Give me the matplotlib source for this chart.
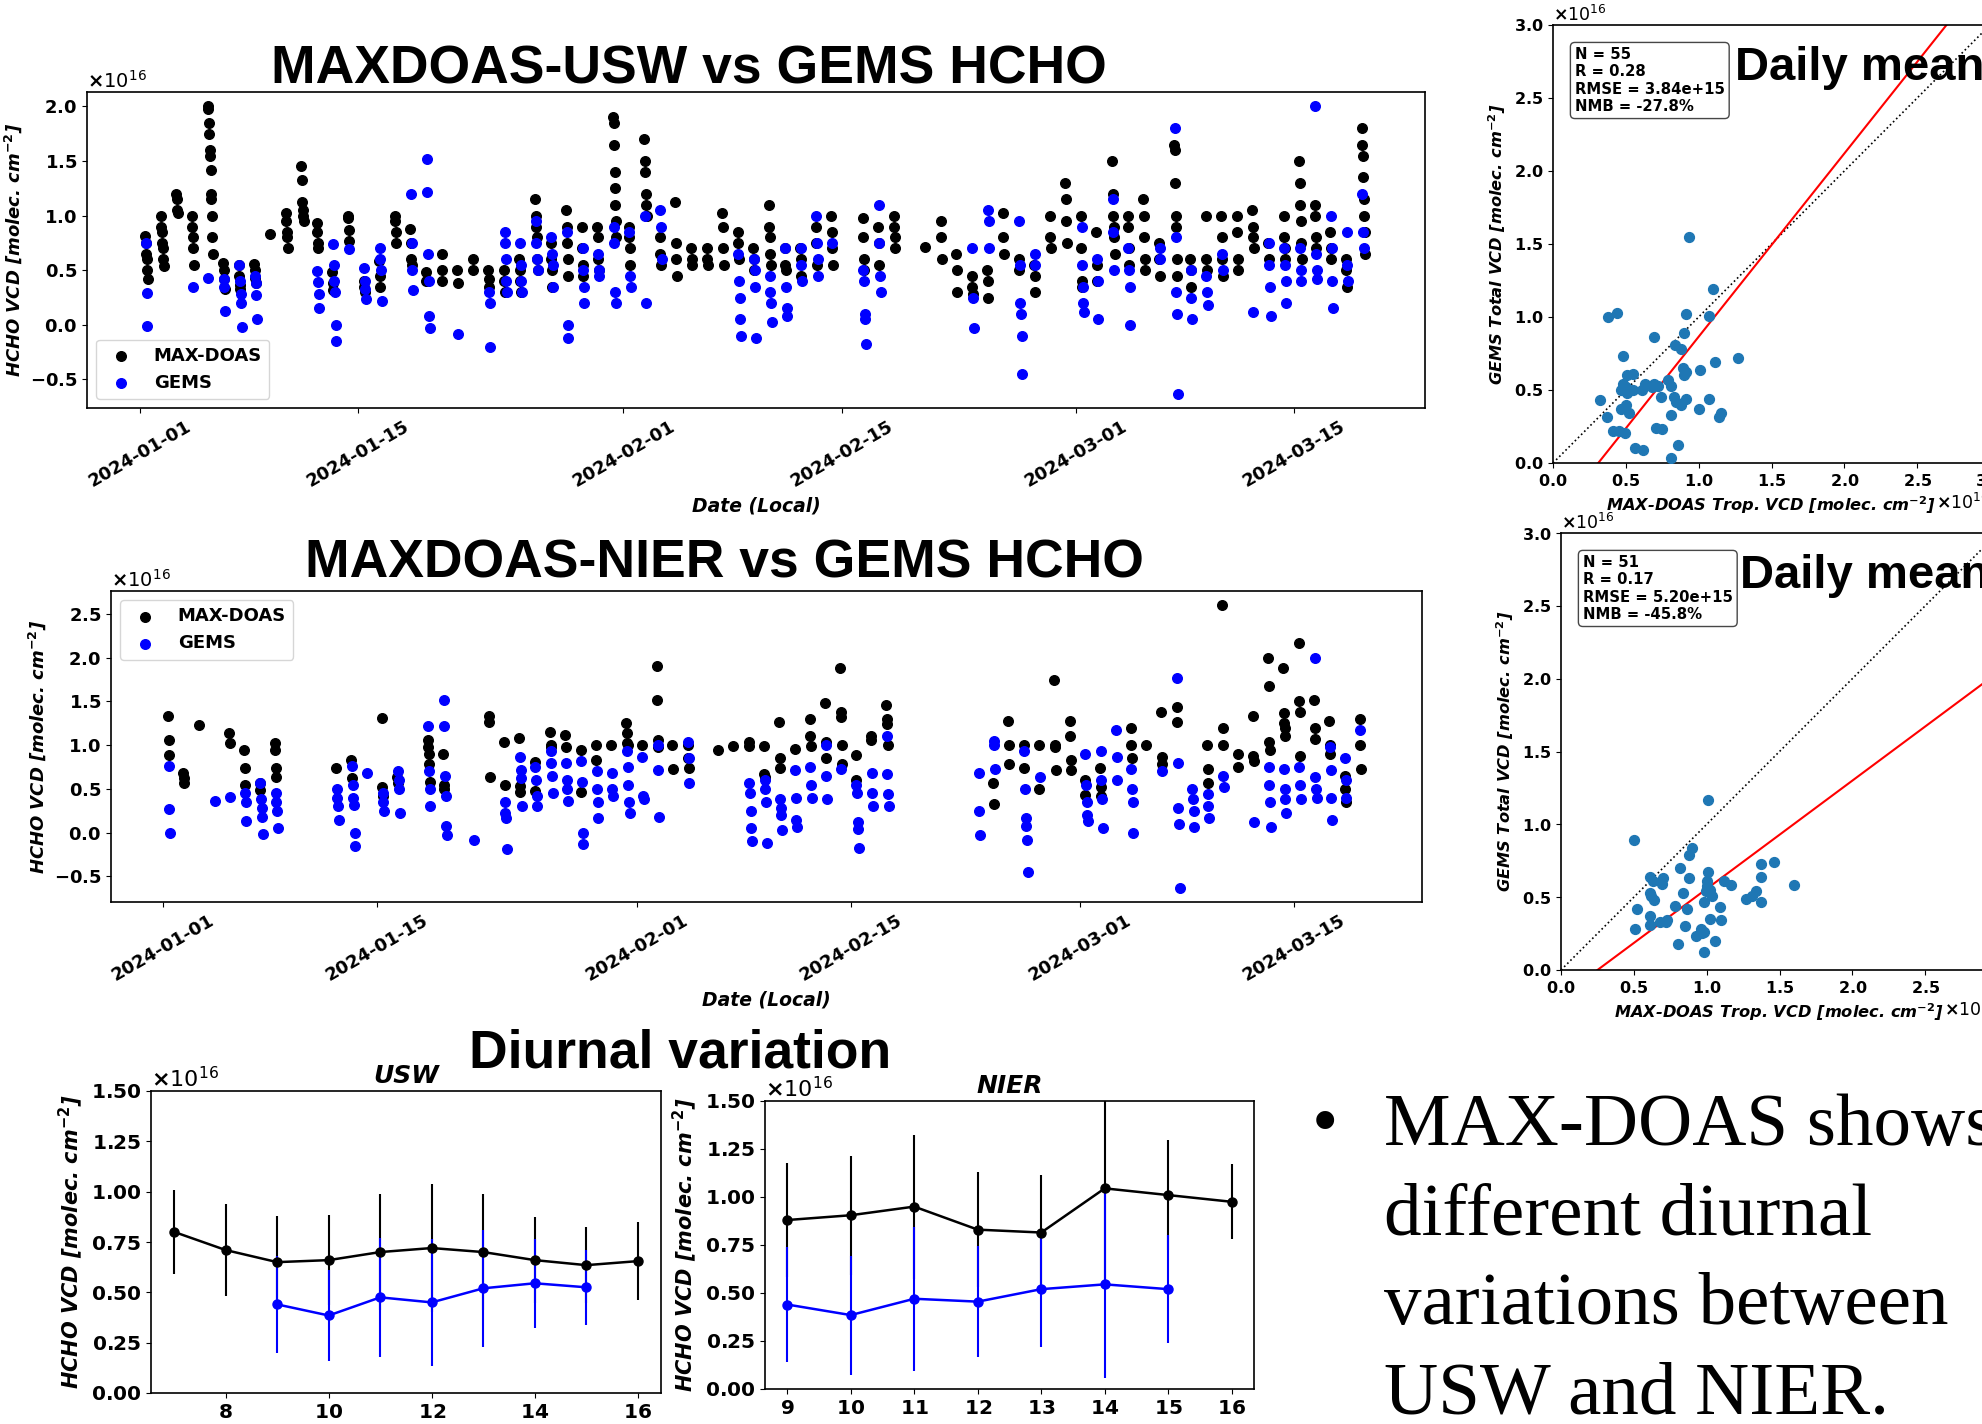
import matplotlib
matplotlib.use('Agg')
import matplotlib.pyplot as plt
import matplotlib.dates as mdates
import numpy as np
from datetime import datetime, timedelta

plt.rcParams['font.family'] = ['DejaVu Sans']
plt.rcParams['font.weight'] = 'bold'
plt.rcParams['axes.labelweight'] = 'bold'
plt.rcParams['axes.titleweight'] = 'bold'
plt.rcParams['axes.formatter.use_mathtext'] = True
plt.rcParams['axes.linewidth'] = 1.2

W, H = 1982, 1424
SCALE = 1e16
BASE = datetime(2024, 1, 1)

# ---------------- USW time series (values in 1e16 molec/cm2) ----------------
usw_days = [0, 1, 2, 3, 4, 5, 6, 7, 8, 9, 10, 11, 12, 13, 14, 15, 16, 17, 18, 19,
            20, 21, 22, 23, 24, 25, 26, 27, 28, 29, 30, 31, 32, 33, 34, 35, 36, 37, 38, 39,
            40, 41, 42, 43, 44, 46, 47, 48, 50, 51, 52, 53, 54, 55, 56, 57, 58, 59, 60,
            61, 62, 63, 64, 65, 66, 67, 68, 69, 70, 71, 72, 73, 74, 75, 76, 77, 78]
usw_maxdoas = [
    [0.81, 0.75, 0.65, 0.6, 0.5, 0.42], [1.0, 0.9, 0.85, 0.75, 0.7, 0.6, 0.54],
    [1.2, 1.15, 1.05, 1.02], [1.0, 0.9, 0.8, 0.7, 0.55],
    [2.0, 1.98, 1.85, 1.75, 1.6, 1.55, 1.42, 1.2, 1.15, 1.0, 0.8, 0.65],
    [0.57, 0.5, 0.42, 0.33], [0.55, 0.45, 0.36, 0.33], [0.56, 0.5, 0.43, 0.38], [0.83],
    [1.02, 0.95, 0.85, 0.8, 0.7], [1.45, 1.33, 1.12, 1.05, 1.0, 0.95], [0.93, 0.85, 0.75, 0.7],
    [0.48, 0.38, 0.32], [1.0, 0.98, 0.87, 0.77], [0.4, 0.35, 0.3], [0.58, 0.45, 0.35],
    [1.0, 0.95, 0.85, 0.75], [0.88, 0.75, 0.6, 0.55], [0.48, 0.4], [0.65, 0.5, 0.4],
    [0.5, 0.38], [0.6, 0.5], [0.5, 0.42, 0.35], [0.5, 0.4, 0.3], [0.6, 0.5, 0.4, 0.3],
    [1.15, 1.0, 0.9, 0.8, 0.6, 0.5], [0.75, 0.6, 0.5, 0.35], [1.05, 0.9, 0.75, 0.6, 0.45],
    [0.9, 0.7, 0.55, 0.45], [0.9, 0.8, 0.6, 0.5], [1.9, 1.85, 1.65, 1.4, 1.25, 1.1, 0.95, 0.8],
    [0.9, 0.8, 0.7, 0.55], [1.7, 1.5, 1.4, 1.2, 1.1, 1.0], [0.8, 0.65, 0.55],
    [1.12, 0.75, 0.6, 0.45], [0.7, 0.6, 0.55], [0.7, 0.6, 0.55], [1.02, 0.9, 0.7, 0.55],
    [0.85, 0.75, 0.6], [0.7, 0.6, 0.5], [1.1, 0.9, 0.8, 0.65, 0.55], [0.7, 0.55, 0.5],
    [0.7, 0.6, 0.45], [0.9, 0.75, 0.55], [1.0, 0.85, 0.7, 0.55], [0.98, 0.8, 0.6, 0.5],
    [0.9, 0.75, 0.55], [1.0, 0.9, 0.8, 0.7], [0.71], [0.95, 0.8, 0.6], [0.65, 0.5, 0.3],
    [0.45, 0.35, 0.28], [0.5, 0.4, 0.25], [1.02, 0.8, 0.65], [0.6, 0.5], [0.55, 0.45, 0.3],
    [1.0, 0.8, 0.7], [1.3, 1.15, 0.95, 0.75], [1.0, 0.7, 0.4, 0.35], [0.85, 0.55, 0.4],
    [1.5, 1.2, 1.0, 0.9, 0.8, 0.65], [1.0, 0.9, 0.7, 0.55], [1.15, 1.0, 0.8, 0.6, 0.5],
    [0.75, 0.6, 0.45], [1.65, 1.6, 1.3, 1.0, 0.9, 0.6, 0.45], [0.6, 0.5, 0.35], [1.0, 0.6, 0.5],
    [1.0, 0.8, 0.6, 0.45], [1.0, 0.85, 0.6, 0.5], [1.05, 0.9, 0.8, 0.7], [0.75, 0.6],
    [1.0, 0.8, 0.7, 0.6], [1.5, 1.3, 1.1, 0.95, 0.75, 0.6], [1.1, 1.0, 0.8, 0.7],
    [0.85, 0.7, 0.6], [0.6, 0.5, 0.35], [1.8, 1.65, 1.55, 1.35, 1.15, 1.0, 0.85, 0.65],
]
usw_gems = [
    [0.75, 0.29, -0.01], [], [], [0.35], [0.43], [0.42, 0.35, 0.13], [0.55, 0.4, 0.28, 0.2, -0.02],
    [0.45, 0.38, 0.27, 0.05], [], [], [], [0.49, 0.39, 0.28, 0.15], [0.74, 0.55, 0.4, 0.3, 0.0, -0.15],
    [0.69], [0.52, 0.4, 0.33, 0.24], [0.7, 0.6, 0.5, 0.22], [], [1.2, 0.75, 0.5, 0.32],
    [1.52, 1.22, 0.65, 0.4, 0.08, -0.03], [], [-0.08], [], [0.3, 0.2, -0.2],
    [0.85, 0.75, 0.6, 0.4, 0.3], [0.75, 0.55, 0.4, 0.3], [0.95, 0.75, 0.6, 0.5],
    [0.8, 0.65, 0.55, 0.35], [0.85, 0.0, -0.12], [0.7, 0.5, 0.35, 0.2], [0.65, 0.5, 0.45],
    [0.9, 0.75, 0.3, 0.2], [0.85, 0.45, 0.35], [1.0, 0.2], [1.05, 0.9, 0.6], [], [], [], [],
    [0.65, 0.4, 0.25, 0.05, -0.1], [0.6, 0.5, 0.35, -0.12], [0.45, 0.3, 0.2, 0.03],
    [0.7, 0.35, 0.15, 0.08], [0.7, 0.55, 0.4], [1.0, 0.75, 0.6, 0.45], [0.75],
    [0.5, 0.4, 0.1, 0.05, -0.18], [1.1, 0.75, 0.45, 0.3], [], [], [], [],
    [0.7, 0.25, -0.03], [1.05, 0.95, 0.7], [], [0.95, 0.55, 0.2, 0.1, -0.1, -0.45], [0.65, 0.55],
    [], [], [0.9, 0.55, 0.35, 0.2, 0.12], [0.6, 0.4, 0.05], [1.15, 0.85, 0.5],
    [0.7, 0.5, 0.35, 0.0], [], [0.7, 0.6], [1.8, 0.8, 0.3, 0.1, -0.63], [0.5, 0.25, 0.05],
    [0.45, 0.3, 0.18], [0.65, 0.5], [], [0.12], [0.75, 0.55, 0.35, 0.08], [0.7, 0.55, 0.4, 0.2],
    [0.7, 0.5, 0.4], [2.0, 0.65, 0.5, 0.42], [1.0, 0.7, 0.4, 0.15], [0.85, 0.55, 0.4], [1.2, 0.85, 0.7],
]

# ---------------- NIER time series ----------------
nier_days = [0, 1, 2, 3, 4, 5, 6, 7, 11, 12, 13, 14, 15, 17, 18, 20, 21, 22, 23, 24,
             25, 26, 27, 28, 29, 30, 31, 32, 33, 34, 36, 37, 38, 39, 40, 41, 42, 43, 44, 45,
             46, 47, 53, 54, 55, 56, 57, 58, 59, 60, 61, 62, 63, 64, 65, 66, 67, 68, 69, 70,
             71, 72, 73, 74, 75, 76, 77, 78]
nier_maxdoas = [
    [1.33, 1.06, 0.89], [0.68, 0.63, 0.57], [1.23], [], [1.14, 1.03], [0.95, 0.74, 0.55],
    [0.57, 0.49], [1.02, 0.95, 0.74, 0.64], [0.74], [0.83, 0.63], [], [1.31, 0.52, 0.42],
    [0.64, 0.57], [1.06, 0.98, 0.9, 0.78, 0.58], [0.9, 0.55, 0.5], [], [1.33, 1.27, 0.64],
    [1.04, 0.55], [1.08, 0.53, 0.47], [0.81, 0.48], [1.15, 1.0, 0.98], [1.12, 0.98],
    [0.95, 0.47], [1.0, 0.83], [1.0], [1.25, 1.14, 1.03, 1.0], [1.0], [1.9, 1.52, 1.06, 0.98],
    [1.0, 0.73], [1.0, 0.85, 0.74], [0.94], [0.99], [1.04, 0.99], [0.99, 0.67, 0.64],
    [1.27, 0.85, 0.74], [0.96], [1.3, 1.1, 0.99], [1.48, 1.04, 0.85], [1.88, 1.38, 1.32, 1.0, 0.78],
    [0.89, 0.6], [1.1, 1.06], [1.46, 1.3, 1.24, 1.0], [], [0.57, 0.33], [1.28, 1.0, 0.78],
    [1.0, 0.74], [1.0, 0.5], [1.75, 1.0, 0.98, 0.72], [1.28, 1.1, 0.83, 0.72], [0.6, 0.43],
    [0.74, 0.52, 0.42], [], [1.2, 1.0, 0.85], [1.0], [1.38, 0.87, 0.78], [1.44, 1.27], [],
    [1.0, 0.73, 0.57], [2.6, 1.2, 1.0], [0.9, 0.75], [1.33, 0.88, 0.82], [2.0, 1.68, 1.04, 0.95],
    [1.88, 1.37, 1.25, 1.2, 1.1], [2.17, 1.5, 1.38, 0.88], [1.52, 1.2, 1.07], [1.28, 1.0, 0.9],
    [0.65, 0.5, 0.35], [1.3, 1.0, 0.73],
]
nier_gems = [
    [0.76, 0.27, 0.0], [], [], [0.36], [0.41], [0.45, 0.35, 0.13], [0.57, 0.39, 0.28, 0.18, -0.02],
    [0.45, 0.35, 0.25, 0.05], [0.5, 0.4, 0.3, 0.15], [0.76, 0.55, 0.4, 0.32, 0.0, -0.15], [0.68],
    [0.45, 0.35, 0.25], [0.7, 0.6, 0.5, 0.22], [1.22, 0.7, 0.5, 0.3], [1.52, 1.22, 0.65, 0.42, 0.08, -0.03],
    [-0.08], [], [0.35, 0.23, 0.17, -0.19], [0.86, 0.72, 0.62, 0.3], [0.75, 0.6, 0.42, 0.3],
    [0.93, 0.8, 0.65, 0.45], [0.8, 0.6, 0.5, 0.36], [0.82, 0.58, 0.0, -0.13], [0.7, 0.5, 0.35, 0.17],
    [0.68, 0.5, 0.42], [0.93, 0.75, 0.55, 0.35, 0.23], [0.87, 0.42, 0.38], [1.0, 0.72, 0.18], [],
    [1.04, 0.85, 0.57], [], [], [0.57, 0.45, 0.25, 0.05, -0.1], [0.6, 0.5, 0.35, -0.12],
    [0.38, 0.28, 0.2, 0.03], [0.72, 0.4, 0.15, 0.07], [0.75, 0.55, 0.4], [1.0, 0.65, 0.38], [0.73],
    [0.55, 0.45, 0.12, 0.04, -0.18], [0.68, 0.45, 0.3], [1.1, 0.67, 0.44, 0.3], [0.68, 0.25, -0.03],
    [1.05, 1.0, 0.73], [], [0.93, 0.5, 0.17, 0.08, -0.08, -0.45], [0.64], [], [],
    [0.9, 0.55, 0.35, 0.2, 0.13], [0.93, 0.6, 0.38, 0.05], [1.17, 0.87, 0.6], [0.73, 0.5, 0.35, 0.0],
    [], [0.7], [1.77, 0.8, 0.28, 0.1, -0.63], [0.5, 0.38, 0.25, 0.07], [0.44, 0.3, 0.17], [0.65, 0.52],
    [], [0.12], [0.75, 0.55, 0.35, 0.07], [0.73, 0.5, 0.38, 0.22], [0.75, 0.55, 0.38],
    [2.0, 0.64, 0.5, 0.4], [0.98, 0.72, 0.4, 0.15], [0.85, 0.6, 0.4], [1.17],
]

# ---------------- daily-mean scatter ----------------
usw_sc_x = [0.936, 1.10, 0.38, 0.44, 0.915, 1.07, 0.69, 0.90, 0.84, 0.88, 0.48, 1.27, 1.11, 1.01,
            0.89, 0.91, 0.90, 0.51, 0.55, 0.48, 0.63, 0.69, 0.79, 0.81, 0.47, 0.51, 0.55, 0.61,
            0.68, 0.32, 0.74, 0.83, 0.845, 0.915, 1.07, 0.50, 0.47, 0.88, 1.0, 1.15, 1.14, 0.525,
            0.37, 0.81, 0.41, 0.45, 0.495, 0.71, 0.75, 0.855, 0.56, 0.615, 0.81, 0.50, 0.72]
usw_sc_y = [1.545, 1.19, 1.0, 1.03, 1.02, 1.01, 0.86, 0.89, 0.81, 0.78, 0.73, 0.72, 0.69, 0.64,
            0.65, 0.62, 0.60, 0.60, 0.61, 0.54, 0.54, 0.54, 0.57, 0.53, 0.50, 0.48, 0.50, 0.50,
            0.52, 0.43, 0.45, 0.45, 0.42, 0.44, 0.44, 0.40, 0.37, 0.395, 0.37, 0.345, 0.315, 0.34,
            0.315, 0.33, 0.22, 0.22, 0.205, 0.24, 0.23, 0.125, 0.10, 0.09, 0.035, 0.52, 0.53]
nier_sc_x = [1.01, 0.50, 0.90, 0.88, 0.82, 1.46, 1.37, 1.01, 0.61, 0.63, 0.70, 0.69, 0.88, 1.0,
             1.12, 1.17, 1.37, 1.60, 1.0, 1.02, 0.995, 0.61, 0.84, 0.62, 1.04, 0.64, 1.27, 1.31,
             1.34, 1.37, 0.98, 0.52, 0.785, 0.865, 1.09, 0.61, 0.61, 0.68, 0.73, 1.02, 1.10, 0.51,
             0.85, 0.96, 0.97, 0.93, 0.805, 1.06, 0.985, 0.72, 0.98]
nier_sc_y = [1.17, 0.89, 0.835, 0.79, 0.70, 0.74, 0.73, 0.67, 0.64, 0.61, 0.63, 0.59, 0.63, 0.61,
             0.61, 0.585, 0.64, 0.585, 0.575, 0.55, 0.54, 0.53, 0.53, 0.505, 0.505, 0.48, 0.49, 0.51,
             0.54, 0.47, 0.47, 0.42, 0.44, 0.42, 0.43, 0.37, 0.31, 0.33, 0.34, 0.35, 0.34, 0.28,
             0.305, 0.28, 0.255, 0.235, 0.18, 0.20, 0.125, 0.33, 0.26]
usw_fit = (1.255, -0.39)      # slope, intercept (1e16)
nier_fit = (0.743, -0.186)
usw_stats = 'N = 55\nR = 0.28\nRMSE = 3.84e+15\nNMB = -27.8%'
nier_stats = 'N = 51\nR = 0.17\nRMSE = 5.20e+15\nNMB = -45.8%'

# ---------------- diurnal variation ----------------
usw_hours = [7, 8, 9, 10, 11, 12, 13, 14, 15, 16]
usw_md_mean = [0.80, 0.71, 0.65, 0.66, 0.70, 0.72, 0.70, 0.66, 0.635, 0.655]
usw_md_std = [0.21, 0.23, 0.23, 0.225, 0.29, 0.32, 0.29, 0.215, 0.19, 0.195]
usw_gems_hours = [9, 10, 11, 12, 13, 14, 15]
usw_gems_mean = [0.44, 0.385, 0.475, 0.45, 0.52, 0.545, 0.525]
usw_gems_std = [0.24, 0.225, 0.295, 0.315, 0.29, 0.22, 0.185]

nier_hours = [9, 10, 11, 12, 13, 14, 15, 16]
nier_md_mean = [0.88, 0.905, 0.95, 0.83, 0.815, 1.045, 1.01, 0.975]
nier_md_std = [0.295, 0.31, 0.375, 0.30, 0.30, 0.48, 0.285, 0.195]
nier_gems_hours = [9, 10, 11, 12, 13, 14, 15]
nier_gems_mean = [0.44, 0.385, 0.47, 0.455, 0.52, 0.545, 0.52]
nier_gems_std = [0.30, 0.31, 0.375, 0.29, 0.30, 0.49, 0.28]

tick_dates = [datetime(2024, 1, 1), datetime(2024, 1, 15), datetime(2024, 2, 1),
              datetime(2024, 2, 15), datetime(2024, 3, 1), datetime(2024, 3, 15)]


def px_axes(fig, left, top, right, bottom):
    return fig.add_axes([left / W, 1 - bottom / H, (right - left) / W, (bottom - top) / H])


def flatten(days, values, start_hour, step):
    xs, ys = [], []
    for d, vals in zip(days, values):
        for i, v in enumerate(vals):
            xs.append(BASE + timedelta(days=d, hours=start_hour + step * i))
            ys.append(v * SCALE)
    return xs, ys


def draw_series(ax, days, md, gems, legend_loc):
    mx, my = flatten(days, md, 8, 0.75)
    gx, gy = flatten(days, gems, 9, 1.0)
    ax.scatter(mx, my, s=48, color='black', label='MAX-DOAS')
    ax.scatter(gx, gy, s=48, color='blue', label='GEMS')
    ax.set_xlim(BASE - timedelta(days=3.4), BASE + timedelta(days=82.4))
    ax.set_xticks(tick_dates)
    ax.xaxis.set_major_formatter(mdates.DateFormatter('%Y-%m-%d'))
    ax.tick_params(labelsize=13)
    plt.setp(ax.get_xticklabels(), rotation=30)
    ax.set_xlabel('Date (Local)', fontstyle='italic', fontsize=13.5)
    ax.set_ylabel('HCHO VCD [molec. cm$^{-2}$]', fontstyle='italic', fontsize=13)
    ax.yaxis.get_offset_text().set_fontsize(14)
    ax.yaxis.get_offset_text().set_fontweight('normal')
    ax.legend(loc=legend_loc, fontsize=13)


def draw_scatter(ax, x, y, fit, stats):
    ax.scatter(np.array(x) * SCALE, np.array(y) * SCALE, s=50, color='#1f77b4', zorder=3)
    ax.axline((0, 0), (SCALE, SCALE), color='black', ls=':', lw=1.2)
    ax.axline((0, fit[1] * SCALE), slope=fit[0], color='red', lw=1.5)
    ax.set_xlim(0, 3 * SCALE)
    ax.set_ylim(0, 3 * SCALE)
    ax.set_xticks(np.arange(0, 3.01, 0.5) * SCALE)
    ax.set_yticks(np.arange(0, 3.01, 0.5) * SCALE)
    ax.tick_params(labelsize=11.5)
    ax.set_xlabel('MAX-DOAS Trop. VCD [molec. cm$^{-2}$]', fontstyle='italic', fontsize=11.7)
    ax.set_ylabel('GEMS Total VCD [molec. cm$^{-2}$]', fontstyle='italic', fontsize=11.7)
    for t in (ax.xaxis.get_offset_text(), ax.yaxis.get_offset_text()):
        t.set_fontsize(12.5)
        t.set_fontweight('normal')
    ax.text(0.05, 0.95, stats, transform=ax.transAxes, va='top', ha='left', fontsize=10.7,
            bbox=dict(boxstyle='round', facecolor='white', edgecolor='0.2', alpha=0.9))


def draw_diurnal(ax, title, hours, md_mean, md_std, g_hours, g_mean, g_std):
    ax.errorbar(hours, np.array(md_mean) * SCALE, yerr=np.array(md_std) * SCALE, fmt='-o',
                color='black', markersize=6.5, lw=1.8, elinewidth=1.5)
    ax.errorbar(g_hours, np.array(g_mean) * SCALE, yerr=np.array(g_std) * SCALE, fmt='-o',
                color='blue', markersize=6.5, lw=1.8, elinewidth=1.5)
    ax.set_ylim(0, 1.5 * SCALE)
    ax.set_yticks(np.arange(0, 1.51, 0.25) * SCALE)
    ax.tick_params(labelsize=14.5)
    ax.set_title(title, fontstyle='italic', fontsize=18)
    ax.set_ylabel('HCHO VCD [molec. cm$^{-2}$]', fontstyle='italic', fontsize=15)
    ax.yaxis.get_offset_text().set_fontsize(16)
    ax.yaxis.get_offset_text().set_fontweight('normal')


fig = plt.figure(figsize=(W / 100, H / 100), dpi=100)

ax1 = px_axes(fig, 87, 92, 1425, 408)
draw_series(ax1, usw_days, usw_maxdoas, usw_gems, 'lower left')
ax2 = px_axes(fig, 111, 591, 1422, 902)
draw_series(ax2, nier_days, nier_maxdoas, nier_gems, 'upper left')

ax3 = px_axes(fig, 1553, 25, 1990, 463)
draw_scatter(ax3, usw_sc_x, usw_sc_y, usw_fit, usw_stats)
ax4 = px_axes(fig, 1561, 533, 1998, 970)
draw_scatter(ax4, nier_sc_x, nier_sc_y, nier_fit, nier_stats)

ax5 = px_axes(fig, 151, 1091, 661, 1393)
draw_diurnal(ax5, 'USW', usw_hours, usw_md_mean, usw_md_std,
             usw_gems_hours, usw_gems_mean, usw_gems_std)
ax6 = px_axes(fig, 765, 1101, 1254, 1389)
draw_diurnal(ax6, 'NIER', nier_hours, nier_md_mean, nier_md_std,
             nier_gems_hours, nier_gems_mean, nier_gems_std)
ax6.set_xticks(nier_hours)

# slide headings
head = dict(family='Liberation Sans', weight='bold', va='baseline')
fig.text(689 / W, 1 - 83 / H, 'MAXDOAS-USW vs GEMS HCHO', ha='center', fontsize=38.5, **head)
fig.text(724 / W, 1 - 578 / H, 'MAXDOAS-NIER vs GEMS HCHO', ha='center', fontsize=38.5, **head)
fig.text(680 / W, 1 - 1068 / H, 'Diurnal variation', ha='center', fontsize=38.5, **head)
fig.text(1735 / W, 1 - 80 / H, 'Daily mean', ha='left', fontsize=34, **head)
fig.text(1740 / W, 1 - 588 / H, 'Daily mean', ha='left', fontsize=34, **head)

# bullet text
bullet_lines = ['MAX-DOAS shows', 'different diurnal', 'variations between', 'USW and NIER.']
serif = dict(family='Liberation Serif', weight='normal', va='baseline', ha='left', fontsize=54)
fig.text(1312 / W, 1 - 1145 / H, '\u2022', **serif)
for i, line in enumerate(bullet_lines):
    fig.text(1384 / W, 1 - (1145 + 89.5 * i) / H, line, **serif)

fig.savefig('out.png', dpi=100)
